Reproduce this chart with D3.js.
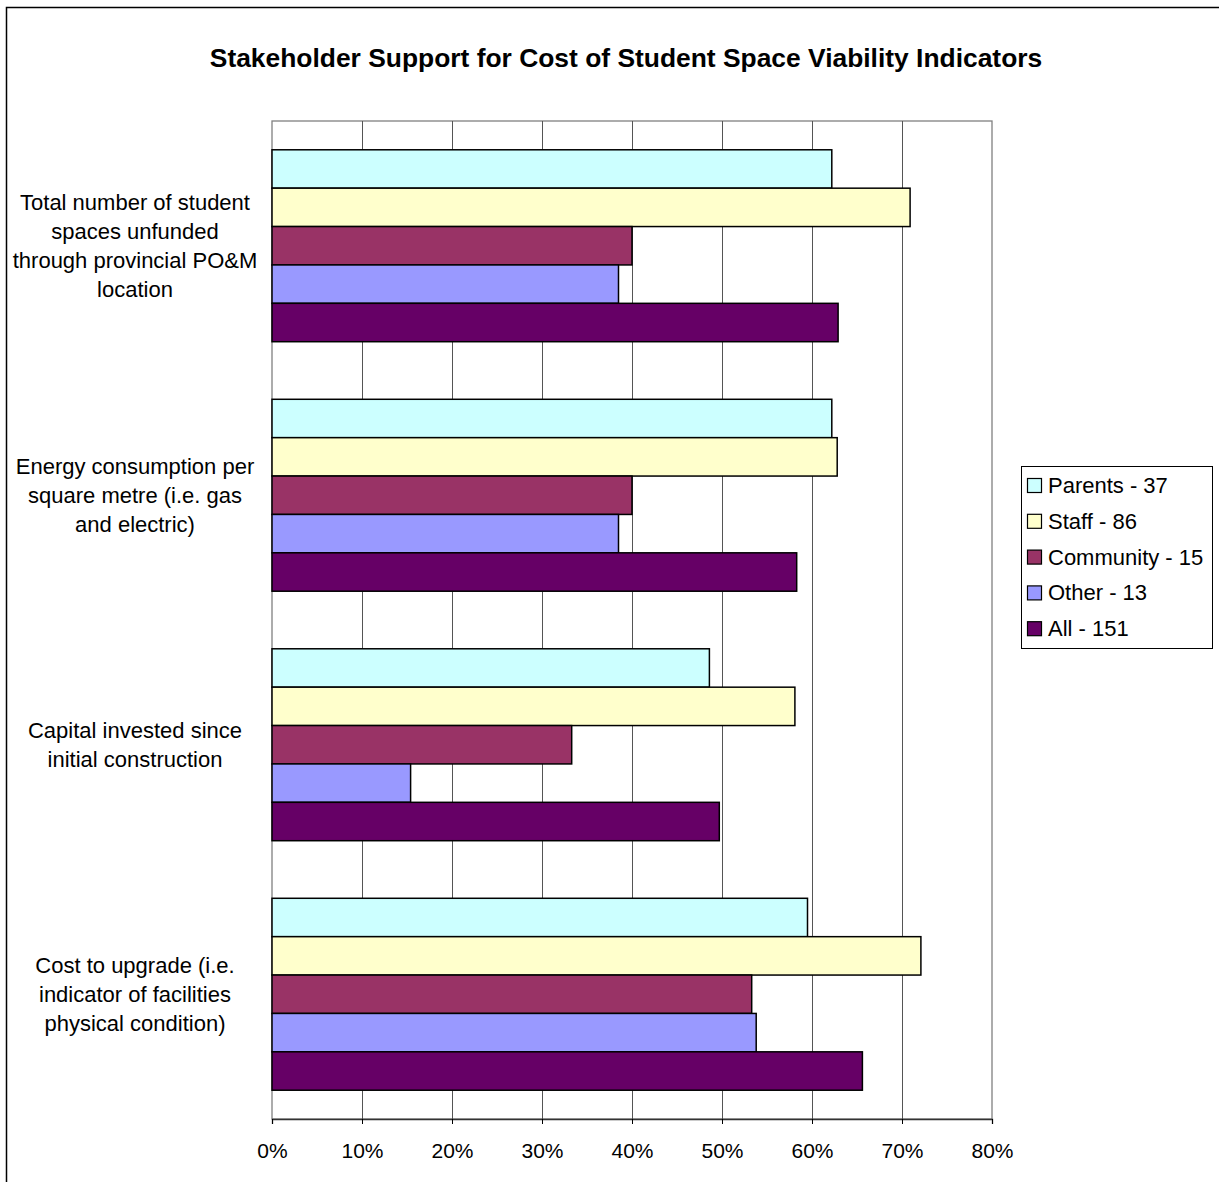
<!DOCTYPE html>
<html>
<head>
<meta charset="utf-8">
<script src="https://cdn.jsdelivr.net/npm/d3@7"></script>
<style>
  body { margin: 0; background: #fff; }
  svg { display: block; font-family: "Liberation Sans", Arial, sans-serif; }
</style>
</head>
<body>
<div id="chart"></div>
<script>
const [width, height] = [1219, 1182];

// data
const categories = [
  "Total number of student spaces unfunded through provincial PO&M location",
  "Energy consumption per square metre (i.e. gas and electric)",
  "Capital invested since initial construction",
  "Cost to upgrade (i.e. indicator of facilities physical condition)"
];
const categoryLines = [
  ["Total number of student", "spaces unfunded", "through provincial PO&M", "location"],
  ["Energy consumption per", "square metre (i.e. gas", "and electric)"],
  ["Capital invested since", "initial construction"],
  ["Cost to upgrade (i.e.", "indicator of facilities", "physical condition)"]
];
const seriesNames = ["Parents - 37", "Staff - 86", "Community - 15", "Other - 13", "All - 151"];
const seriesColors = ["#CCFFFF", "#FFFFCC", "#993366", "#9999FF", "#660066"];

// percent values, one array per series (category order as above)
const parents   = [62.2, 62.2, 48.6, 59.5];
const staff     = [70.9, 62.8, 58.1, 72.1];
const community = [40.0, 40.0, 33.3, 53.3];
const other     = [38.5, 38.5, 15.4, 53.8];
const all       = [62.9, 58.3, 49.7, 65.6];
const seriesValues = [parents, staff, community, other, all];

const xTicks = [0, 10, 20, 30, 40, 50, 60, 70, 80];

const plot = {left: 272, right: 992, top: 121, bottom: 1119};

const svg = d3.select("#chart")
  .append("svg")
  .attr("width", width)
  .attr("height", height);

// outer chart border (right and bottom run off the picture)
svg.append("rect")
  .attr("x", 6.5).attr("y", 7.5)
  .attr("width", width + 20).attr("height", height + 20)
  .attr("fill", "#fff")
  .attr("stroke", "#000")
  .attr("stroke-width", 1.5);

svg.append("text")
  .attr("x", 626)
  .attr("y", 67)
  .attr("text-anchor", "middle")
  .attr("font-weight", "bold")
  .attr("font-size", 26.4)
  .text("Stakeholder Support for Cost of Student Space Viability Indicators");

const x = d3.scaleLinear()
  .domain([0, 80])
  .range([plot.left, plot.right]);

const y = d3.scaleBand()
  .domain(categories)
  .range([plot.top, plot.bottom])
  .paddingInner(1.5 / 6.5)
  .paddingOuter(0.75 / 6.5);

const ySeries = d3.scaleBand()
  .domain(d3.range(seriesNames.length))
  .range([0, y.bandwidth()]);

// plot frame and gridlines
svg.append("rect")
  .attr("x", plot.left).attr("y", plot.top)
  .attr("width", plot.right - plot.left)
  .attr("height", plot.bottom - plot.top)
  .attr("fill", "#fff")
  .attr("stroke", "#808080")
  .attr("stroke-width", 1.3);

svg.append("g")
  .selectAll("line")
  .data(xTicks.slice(1, -1))
  .enter()
  .append("line")
  .attr("x1", d => Math.round(x(d)) + 0.5)
  .attr("x2", d => Math.round(x(d)) + 0.5)
  .attr("y1", plot.top)
  .attr("y2", plot.bottom)
  .attr("stroke", "#555")
  .attr("stroke-width", 1);

// bars
const groups = svg.append("g")
  .selectAll("g")
  .data(categories)
  .enter()
  .append("g")
  .attr("transform", d => `translate(0, ${y(d)})`);

groups.selectAll("rect")
  .data((d, i) => seriesValues.map((vals, s) => ({s: s, v: vals[i]})))
  .enter()
  .append("rect")
  .attr("x", x(0))
  .attr("y", d => ySeries(d.s))
  .attr("width", d => x(d.v) - x(0))
  .attr("height", ySeries.bandwidth())
  .attr("fill", d => seriesColors[d.s])
  .attr("stroke", "#000")
  .attr("stroke-width", 1.5);

// x axis
const x_axis = d3.axisBottom(x)
  .tickValues(xTicks)
  .tickFormat(d => d + "%")
  .tickSize(5)
  .tickPadding(19);

const axisG = svg.append("g")
  .attr("transform", `translate(0, ${plot.bottom})`)
  .call(x_axis);
axisG.select(".domain").attr("stroke", "#333").attr("stroke-width", 1.3);
axisG.selectAll(".tick line").attr("stroke", "#000");
axisG.selectAll(".tick text")
  .attr("font-size", 21)
  .attr("font-family", "Liberation Sans, Arial, sans-serif")
  .attr("fill", "#000");

// category labels
const lineH = 29;
svg.append("g")
  .selectAll("text")
  .data(categories)
  .enter()
  .append("text")
  .attr("text-anchor", "middle")
  .attr("font-size", 22)
  .attr("fill", "#000")
  .each(function(d, i) {
    const lines = categoryLines[i];
    const cy = y(d) + y.bandwidth() / 2;
    const y0 = cy - (lines.length - 1) * lineH / 2 + 8;
    d3.select(this).selectAll("tspan")
      .data(lines)
      .enter()
      .append("tspan")
      .attr("x", 135)
      .attr("y", (l, j) => y0 + j * lineH)
      .text(l => l);
  });

// legend
const legend = svg.append("g");
legend.append("rect")
  .attr("x", 1021.5).attr("y", 466.5)
  .attr("width", 191).attr("height", 182)
  .attr("fill", "#fff")
  .attr("stroke", "#000")
  .attr("stroke-width", 1);

const items = legend.selectAll("g.item")
  .data(seriesNames)
  .enter()
  .append("g")
  .attr("class", "item")
  .attr("transform", (d, i) => `translate(1027, ${485 + i * 35.8})`);

items.append("rect")
  .attr("x", 0.5).attr("y", -6.5)
  .attr("width", 14).attr("height", 14)
  .attr("fill", (d, i) => seriesColors[i])
  .attr("stroke", "#000")
  .attr("stroke-width", 1.2);

items.append("text")
  .attr("x", 21)
  .attr("y", 8)
  .attr("font-size", 22)
  .attr("fill", "#000")
  .text(d => d);
</script>
</body>
</html>
